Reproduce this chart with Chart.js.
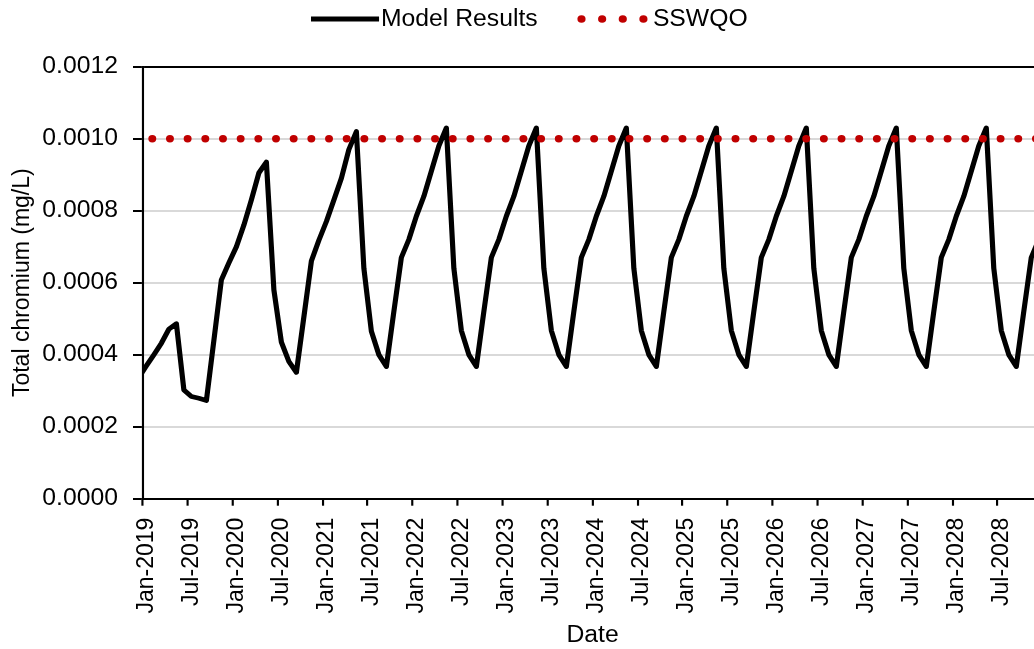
<!DOCTYPE html>
<html>
<head>
<meta charset="utf-8">
<title>Total chromium – model results</title>
<script src="https://cdn.jsdelivr.net/npm/chart.js@4/dist/chart.umd.min.js"></script>
<style>
  html, body { margin: 0; padding: 0; background: #fff; overflow: hidden; }
  canvas { display: block; }
</style>
</head>
<body>
<canvas id="chart" width="992" height="649"></canvas>
<script>
// Monthly model output (mg/L), Dec-2018 .. Dec-2028, each value plotted mid-month
const modelResults = [
  0.000337,
  // 2019
  0.000369, 0.000400, 0.000432, 0.000471, 0.000486, 0.000302, 0.000284, 0.000279, 0.000273, 0.000440, 0.000608, 0.000655,
  // 2020
  0.000700, 0.000760, 0.000830, 0.000905, 0.000935, 0.000580, 0.000435, 0.000381, 0.000351, 0.000505, 0.000660, 0.000718,
  // 2021
  0.000770, 0.000830, 0.000890, 0.000970, 0.001020, 0.000640, 0.000465, 0.000400, 0.000367, 0.000520, 0.000670, 0.000720,
  // 2022
  0.000785, 0.000840, 0.000910, 0.000980, 0.001030, 0.000640, 0.000467, 0.000400, 0.000367, 0.000520, 0.000670, 0.000720,
  // 2023
  0.000785, 0.000840, 0.000910, 0.000980, 0.001030, 0.000640, 0.000467, 0.000400, 0.000367, 0.000520, 0.000670, 0.000720,
  // 2024
  0.000785, 0.000840, 0.000910, 0.000980, 0.001030, 0.000640, 0.000467, 0.000400, 0.000367, 0.000520, 0.000670, 0.000720,
  // 2025
  0.000785, 0.000840, 0.000910, 0.000980, 0.001030, 0.000640, 0.000467, 0.000400, 0.000367, 0.000520, 0.000670, 0.000720,
  // 2026
  0.000785, 0.000840, 0.000910, 0.000980, 0.001030, 0.000640, 0.000467, 0.000400, 0.000367, 0.000520, 0.000670, 0.000720,
  // 2027
  0.000785, 0.000840, 0.000910, 0.000980, 0.001030, 0.000640, 0.000467, 0.000400, 0.000367, 0.000520, 0.000670, 0.000720,
  // 2028
  0.000785, 0.000840, 0.000910, 0.000980, 0.001030, 0.000640, 0.000467, 0.000400, 0.000367, 0.000520, 0.000670, 0.000720
];

// Guideline value (mg/L)
const sswqoLimit = 0.001;

// x axis labels, one every 6 months from Jan-2019
const tickLabels = [
  'Jan-2019', 'Jul-2019', 'Jan-2020', 'Jul-2020', 'Jan-2021', 'Jul-2021', 'Jan-2022',
  'Jul-2022', 'Jan-2023', 'Jul-2023', 'Jan-2024', 'Jul-2024', 'Jan-2025', 'Jul-2025',
  'Jan-2026', 'Jul-2026', 'Jan-2027', 'Jul-2027', 'Jan-2028', 'Jul-2028'
];
const yTicks = [0, 0.0002, 0.0004, 0.0006, 0.0008, 0.0010, 0.0012];

const SX = 1.075;           // horizontal stretch applied when painting
const W = 992, H = 649;
const FONT = '"Liberation Sans", Arial, sans-serif';

Chart.defaults.font.family = FONT;
Chart.defaults.font.size = 23;
Chart.defaults.color = '#000';

// months since Jan-2019; first value is Dec-2018
const modelPoints = modelResults.map((v, i) => ({ x: i - 0.5, y: v }));
const limitPoints = [{ x: 0, y: sswqoLimit }, { x: 120, y: sswqoLimit }];

// paint everything with a horizontal stretch
const stretchX = {
  id: 'stretchX',
  beforeDraw(chart) {
    chart.ctx.setTransform(SX, 0, 0, 1, 0, 0);
  }
};

// legend row at the top: line sample, dotted sample
const legendKey = {
  id: 'legendKey',
  afterDraw(chart) {
    const ctx = chart.ctx;
    const cy = 19;
    const lineLen = 63.3, dotGap = 19.2, dotR = 3.8;
    ctx.save();
    ctx.font = '23px ' + FONT;
    ctx.textBaseline = 'middle';
    ctx.fillStyle = '#000';
    const t1 = chart.data.datasets[0].label;
    const t2 = chart.data.datasets[1].label;
    const w1 = ctx.measureText(t1).width;
    let x = 289.3;

    ctx.strokeStyle = '#000';
    ctx.lineWidth = 5;
    ctx.beginPath();
    ctx.moveTo(x, cy);
    ctx.lineTo(x + lineLen, cy);
    ctx.stroke();
    x += lineLen + 1.8;
    ctx.fillText(t1, x, cy + 1);
    x += w1 + 37;

    ctx.fillStyle = '#c00000';
    for (let i = 0; i < 4; i++) {
      ctx.beginPath();
      ctx.arc(x + dotR + i * dotGap, cy, dotR, 0, Math.PI * 2);
      ctx.fill();
    }
    x += dotGap * 3 + dotR * 2 + 5;
    ctx.fillStyle = '#000';
    ctx.fillText(t2, x, cy + 1);
    ctx.restore();
  }
};

const canvas = document.getElementById('chart');
const chart = new Chart(canvas, {
  type: 'line',
  data: {
    datasets: [
      {
        label: 'Model Results',
        data: modelPoints,
        borderColor: '#000',
        borderWidth: 4.8,
        borderJoinStyle: 'round',
        pointRadius: 0,
        tension: 0,
        clip: 0,
        order: 1
      },
      {
        label: 'SSWQO',
        data: limitPoints,
        borderColor: '#c00000',
        borderWidth: 7.4,
        borderCapStyle: 'round',
        borderDash: [0, 16.44],
        borderDashOffset: 7.47,
        pointRadius: 0,
        clip: 0,
        order: 0
      }
    ]
  },
  options: {
    responsive: false,
    animation: false,
    devicePixelRatio: 1,
    events: [],
    layout: { padding: { top: 66.7, right: 22.2, bottom: 0, left: 0 } },
    plugins: {
      legend: { display: false },
      tooltip: { enabled: false }
    },
    scales: {
      x: {
        type: 'linear',
        min: 0,
        max: 120,
        afterFit: s => {
          s.height = H - 498.7;
          s.paddingLeft = 0;
          s.paddingRight = 0;
        },
        border: { color: '#000', width: 2 },
        grid: { drawOnChartArea: false, tickLength: 7, tickColor: '#000', tickWidth: 2 },
        ticks: {
          stepSize: 6,
          autoSkip: false,
          minRotation: 90,
          maxRotation: 90,
          padding: 12,
          labelOffset: 3,
          callback: v => tickLabels[Math.round(v / 6)] || ''
        },
        title: { display: true, text: 'Date', padding: { top: 0, bottom: 0 } }
      },
      y: {
        min: 0,
        max: 0.0012,
        afterFit: s => {
          s.width = 132.7;
          s.paddingTop = 0;
          s.paddingBottom = 0;
        },
        afterBuildTicks: s => { s.ticks = yTicks.map(v => ({ value: v })); },
        border: { color: '#000', width: 2 },
        grid: {
          color: c => (c.tick && c.tick.value >= 0.00119 ? '#000' : '#d9d9d9'),
          lineWidth: 2,
          tickLength: 9,
          tickColor: '#000',
          tickWidth: 2
        },
        ticks: { padding: 14, callback: v => v.toFixed(4) },
        title: { display: true, text: 'Total chromium (mg/L)', padding: { top: 7, bottom: 0 } }
      }
    }
  },
  plugins: [stretchX, legendKey]
});

// widen the backing store so the stretched drawing keeps 1:1 pixels
canvas.width = Math.round(W * SX);
canvas.style.width = canvas.width + 'px';
chart.draw();
</script>
</body>
</html>
